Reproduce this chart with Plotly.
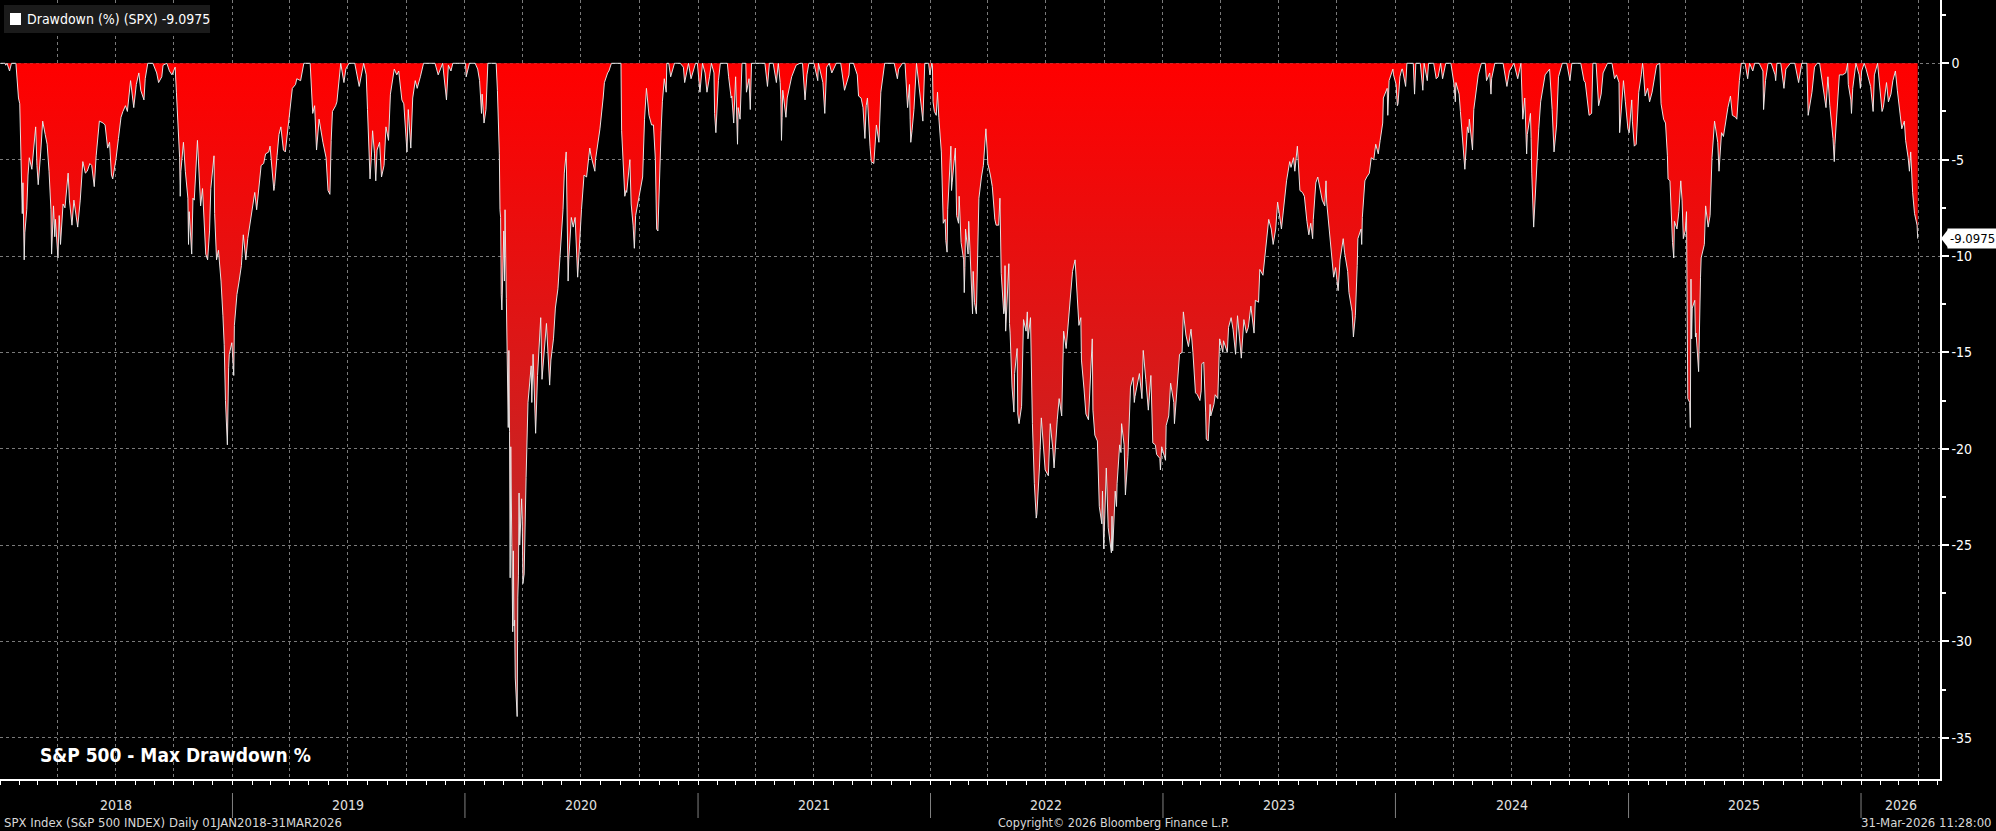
import plotly.graph_objects as go
import datetime as _dt

# ---------------- DATA (drawdown %) ----------------
dd_2018 = [("01-02",0),("01-05",0),("01-09",0),("01-10",-0.1),("01-12",0),("01-16",-0.4),("01-19",0),("01-26",0),
 ("01-30",-1.8),("02-01",-2.1),("02-02",-3.9),("02-05",-7.8),("02-06",-6.2),("02-08",-10.2),("02-09",-8.8),("02-12",-7.6),
 ("02-14",-5.8),("02-16",-4.9),("02-20",-5.5),("02-23",-4.4),("02-26",-3.3),("02-28",-5.3),("03-02",-6.3),("03-06",-4.6),
 ("03-09",-3.0),("03-13",-3.7),("03-16",-4.2),("03-19",-5.6),("03-22",-7.6),("03-23",-9.9),("03-26",-7.4),("03-28",-9.0),
 ("03-29",-8.1),("04-02",-10.1),("04-04",-7.9),("04-06",-9.4),("04-10",-7.3),("04-13",-7.5),("04-18",-5.7),("04-20",-7.1),
 ("04-24",-8.4),("04-27",-7.1),("05-03",-8.5),("05-07",-7.1),("05-11",-5.1),("05-15",-5.7),("05-18",-5.6),("05-22",-5.2),
 ("05-25",-5.3),("05-29",-6.4),("06-01",-4.8),("06-06",-3.0),("06-12",-3.1),("06-15",-3.2),("06-19",-4.4),("06-22",-4.1),
 ("06-25",-5.8),("06-27",-6.0),("07-02",-5.0),("07-06",-3.9),("07-10",-2.8),("07-13",-2.5),("07-17",-2.2),("07-20",-2.5),
 ("07-25",-0.9),("07-30",-2.3),("08-03",-1.1),("08-07",-0.5),("08-10",-1.4),("08-15",-1.9),("08-17",-0.8),("08-21",0),
 ("08-24",0),("08-29",0),("09-04",-0.5),("09-07",-1.0),("09-12",-0.7),("09-14",-0.1),("09-20",0),("09-24",-0.4),
 ("09-28",-0.6),("10-03",-0.2),("10-05",-1.5),("10-10",-4.9),("10-11",-6.9),("10-12",-5.6),("10-16",-4.1),("10-19",-5.6),
 ("10-23",-7.0),("10-24",-9.4),("10-25",-7.7),("10-29",-9.9),("10-31",-7.0),("11-02",-7.1),("11-07",-4.0),("11-09",-5.1),
 ("11-12",-7.4),("11-15",-6.5),("11-20",-9.9),("11-23",-10.2),("11-26",-8.7),("11-28",-6.5),("11-30",-5.8),("12-03",-4.8),
 ("12-04",-7.8),("12-07",-10.2),("12-10",-9.7),("12-14",-11.3),("12-17",-13.1),("12-19",-14.6),("12-21",-17.5),("12-24",-19.8),
 ("12-26",-15.8),("12-27",-15.1),("12-31",-14.5)]

dd_2019 = [("01-03",-16.2),("01-04",-13.6),("01-08",-12.0),("01-11",-11.4),("01-15",-10.5),("01-18",-8.9),("01-22",-10.2),
 ("01-25",-9.1),("01-30",-8.1),("02-01",-7.6),("02-05",-6.7),("02-08",-7.6),("02-12",-6.2),("02-15",-5.3),("02-19",-5.2),
 ("02-22",-4.7),("02-27",-4.6),("03-01",-4.3),("03-07",-6.6),("03-08",-6.4),("03-12",-4.8),("03-15",-3.7),("03-18",-3.3),
 ("03-22",-4.5),("03-25",-4.6),("03-29",-3.3),("04-03",-1.8),("04-05",-1.3),("04-10",-1.1),("04-12",-0.8),("04-18",-0.9),
 ("04-23",0),("04-26",0),("04-30",0),("05-03",0),("05-07",-2.6),("05-10",-2.2),("05-13",-4.5),("05-17",-2.9),("05-23",-4.1),
 ("05-28",-4.9),("05-31",-6.6),("06-03",-6.8),("06-05",-4.0),("06-07",-2.5),("06-12",-2.2),("06-14",-2.0),("06-20",0),
 ("06-25",-1.0),("06-28",-0.3),("07-03",0),("07-12",0),("07-18",-0.9),("07-19",-1.2),("07-26",0),("07-30",-0.6),
 ("08-01",-2.4),("08-02",-3.1),("08-05",-6.0),("08-07",-4.9),("08-09",-3.5),("08-12",-4.7),("08-14",-6.1),("08-16",-4.5),
 ("08-20",-4.1),("08-23",-5.9),("08-27",-5.3),("08-30",-3.3),("09-03",-4.0),("09-06",-1.6),("09-12",-0.3),("09-16",-0.6),
 ("09-19",-0.4),("09-24",-1.9),("09-27",-2.1),("10-02",-4.6),("10-04",-2.4),("10-08",-4.4),("10-11",-1.8),("10-15",-0.9),
 ("10-18",-1.3),("10-23",-0.7),("10-28",0),("11-01",0),("11-08",0),("11-15",0),("11-20",-0.6),("11-27",0),("12-03",-1.9),
 ("12-06",-0.1),("12-10",-0.4),("12-13",0),("12-20",0),("12-27",0),("12-31",0)]

dd_2020 = [("01-02",0),("01-03",-0.7),("01-08",0),("01-17",0),("01-21",-0.3),("01-24",-0.9),("01-27",-2.6),("01-28",-1.6),
 ("01-31",-3.1),("02-03",-2.4),("02-06",0),("02-12",0),("02-14",0),("02-19",0),("02-21",-1.4),("02-24",-4.7),("02-25",-7.6),
 ("02-26",-8.0),("02-27",-12.0),("02-28",-12.8),("03-02",-8.7),("03-03",-11.3),("03-04",-7.6),("03-05",-10.7),("03-06",-12.2),
 ("03-09",-18.9),("03-10",-14.9),("03-11",-19.1),("03-12",-26.7),("03-13",-19.9),("03-16",-29.5),("03-17",-25.3),("03-18",-29.2),
 ("03-19",-28.9),("03-20",-31.9),("03-23",-33.9),("03-24",-27.7),("03-25",-26.6),("03-26",-22.3),("03-27",-25.0),("03-30",-22.6),
 ("03-31",-23.7),("04-01",-27.0),("04-03",-26.5),("04-06",-21.5),("04-08",-18.8),("04-09",-17.6),("04-14",-15.7),("04-15",-17.6),
 ("04-17",-15.1),("04-21",-19.2),("04-24",-16.2),("04-29",-13.2),("05-01",-16.4),("05-05",-14.9),("05-08",-13.5),("05-13",-16.7),
 ("05-15",-15.4),("05-19",-14.3),("05-22",-12.7),("05-26",-11.7),("05-29",-10.1),("06-03",-7.6),("06-05",-5.7),("06-08",-4.6),
 ("06-11",-11.3),("06-12",-10.2),("06-16",-8.0),("06-19",-8.5),("06-22",-8.0),("06-26",-11.1),("07-02",-7.6),("07-06",-5.8),
 ("07-10",-5.9),("07-15",-4.4),("07-17",-4.8),("07-23",-5.6),("07-24",-5.0),("07-31",-3.4),("08-05",-1.8),("08-07",-1.0),
 ("08-12",-0.5),("08-14",-0.4),("08-18",0),("08-21",0),("08-28",0),("09-02",0),("09-03",-3.5),("09-08",-6.9),("09-10",-6.6),
 ("09-11",-6.7),("09-16",-5.0),("09-18",-7.3),("09-21",-8.4),("09-23",-9.6),("09-25",-7.9),("09-29",-7.2),("10-02",-6.5),
 ("10-06",-5.9),("10-09",-2.9),("10-12",-1.3),("10-16",-2.7),("10-20",-3.2),("10-23",-3.2),("10-26",-5.0),("10-28",-8.6),
 ("10-30",-8.7),("11-04",-3.5),("11-06",-2.0),("11-09",-0.8),("11-12",-1.5),("11-13",0),("11-16",0),("11-19",-0.7),
 ("11-23",-0.3),("11-25",0),("11-27",0),("12-04",0),("12-09",-0.2),("12-11",-1.0),("12-17",0),("12-21",-0.8),("12-28",0),
 ("12-31",0)]

dd_2021 = [("01-04",-1.5),("01-08",0),("01-12",-0.5),("01-15",-1.5),("01-19",-0.7),("01-22",0),("01-26",-0.5),("01-27",-2.6),
 ("01-29",-3.6),("02-02",-0.9),("02-05",0),("02-12",0),("02-16",0),("02-18",-0.7),("02-22",-1.8),("02-23",-1.7),("02-25",-3.1),
 ("02-26",-3.1),("03-01",-0.7),("03-04",-4.2),("03-05",-2.3),("03-08",-2.9),("03-11",0),("03-12",0),("03-17",0),("03-18",-1.5),
 ("03-22",-0.8),("03-24",-2.4),("03-26",0),("04-01",0),("04-09",0),("04-16",0),("04-20",-1.2),("04-23",0),("04-29",0),
 ("05-04",-1.0),("05-07",0),("05-10",-1.0),("05-11",-1.9),("05-12",-4.0),("05-13",-2.8),("05-14",-1.4),("05-19",-2.8),
 ("05-21",-1.8),("05-28",-0.7),("06-04",-0.1),("06-10",0),("06-14",0),("06-18",-1.9),("06-21",-0.6),("06-24",0),("07-02",0),
 ("07-08",-0.9),("07-09",0),("07-16",-1.0),("07-19",-2.6),("07-22",-0.2),("07-26",0),("07-30",-0.5),("08-06",0),("08-13",0),
 ("08-18",-1.1),("08-19",-1.4),("08-26",-0.6),("08-27",0),("09-02",0),("09-08",-0.6),("09-10",-1.7),("09-14",-1.8),
 ("09-17",-2.3),("09-20",-3.9),("09-22",-2.2),("09-24",-1.8),("09-28",-4.3),("09-30",-5.1),("10-04",-5.2),("10-06",-4.1),
 ("10-08",-3.2),("10-12",-4.1),("10-15",-1.5),("10-21",0),("10-29",0),("11-05",0),("11-10",-0.8),("11-12",-0.3),("11-18",0),
 ("11-22",0),("11-26",-2.3),("11-29",-1.1),("11-30",-2.9),("12-01",-4.1),("12-03",-3.5),("12-06",-2.4),("12-10",0),
 ("12-14",-1.3),("12-17",-1.9),("12-20",-3.0),("12-23",0),("12-29",0),("12-31",-0.6)]

dd_2022 = [("01-03",0),("01-04",-0.1),("01-05",-2.0),("01-07",-2.5),("01-10",-2.7),("01-12",-1.5),("01-14",-2.8),("01-18",-4.6),
 ("01-19",-5.5),("01-21",-8.3),("01-24",-8.1),("01-25",-9.2),("01-27",-9.8),("01-28",-7.6),("02-02",-4.3),("02-03",-6.6),
 ("02-04",-6.2),("02-09",-4.4),("02-11",-7.9),("02-14",-8.3),("02-15",-6.9),("02-17",-8.2),("02-18",-9.3),("02-22",-10.2),
 ("02-23",-11.9),("02-24",-10.6),("02-25",-8.6),("03-01",-9.9),("03-02",-8.2),("03-04",-9.7),("03-07",-12.8),("03-08",-13.0),
 ("03-09",-10.8),("03-11",-12.4),("03-14",-13.0),("03-16",-10.0),("03-18",-7.0),("03-22",-5.9),("03-25",-5.3),("03-29",-3.4),
 ("04-01",-5.2),("04-05",-5.8),("04-08",-6.4),("04-12",-8.1),("04-14",-8.4),("04-18",-8.4),("04-20",-7.0),("04-22",-10.9),
 ("04-26",-13.0),("04-27",-12.8),("04-28",-10.5),("04-29",-13.9),("05-04",-10.4),("05-05",-13.5),("05-06",-14.0),("05-09",-16.8),
 ("05-11",-18.0),("05-12",-18.1),("05-13",-16.1),("05-17",-14.8),("05-18",-18.2),("05-20",-18.7),("05-24",-17.8),("05-26",-15.0),
 ("05-27",-13.3),("05-31",-13.9),("06-02",-12.9),("06-03",-14.3),("06-07",-13.2),("06-09",-16.9),("06-10",-18.7),("06-13",-21.8),
 ("06-16",-23.6),("06-17",-23.4),("06-21",-21.0),("06-24",-18.4),("06-28",-20.6),("06-30",-21.1),("07-05",-21.4),("07-08",-18.7),
 ("07-12",-20.0),("07-14",-21.0),("07-19",-18.5),("07-22",-17.4),("07-26",-18.3),("07-29",-13.9),("08-02",-14.8),("08-05",-13.6),
 ("08-10",-12.0),("08-12",-10.8),("08-16",-10.2),("08-19",-11.9),("08-22",-13.6),("08-25",-13.2),("08-26",-15.4),("08-30",-16.9),
 ("09-02",-18.2),("09-06",-18.5),("09-08",-17.1),("09-12",-14.3),("09-13",-18.0),("09-16",-19.3),("09-20",-19.6),("09-22",-22.5),
 ("09-23",-23.0),("09-27",-23.9),("09-28",-22.2),("09-30",-25.2),("10-04",-21.0),("10-07",-24.1),("10-12",-25.4),("10-13",-23.5),
 ("10-14",-25.3),("10-18",-22.2),("10-20",-23.0),("10-21",-21.8),("10-25",-19.8),("10-27",-20.2),("10-28",-18.7),("11-01",-19.8),
 ("11-03",-22.4),("11-07",-20.4),("11-10",-17.5),("11-11",-16.8),("11-15",-16.3),("11-17",-17.6),("11-18",-17.3),("11-23",-16.4),
 ("11-25",-16.1),("11-29",-17.4),("11-30",-14.9),("12-01",-14.9),("12-05",-16.4),("12-09",-18.0),("12-13",-16.2),("12-15",-19.1),
 ("12-16",-19.7),("12-20",-19.8),("12-22",-20.3),("12-27",-20.5),("12-28",-21.1),("12-30",-19.9)]

dd_2023 = [("01-03",-20.3),("01-05",-20.6),("01-06",-18.8),("01-10",-18.3),("01-13",-16.6),("01-18",-17.6),("01-19",-18.7),
 ("01-24",-16.7),("01-27",-15.1),("01-31",-15.0),("02-02",-12.9),("02-06",-14.1),("02-10",-14.7),("02-14",-13.8),("02-17",-15.0),
 ("02-21",-17.1),("02-24",-17.2),("02-28",-17.5),("03-02",-17.0),("03-03",-15.6),("03-06",-15.5),("03-09",-18.1),("03-10",-19.5),
 ("03-13",-19.6),("03-16",-17.7),("03-17",-18.3),("03-22",-17.7),("03-24",-17.2),("03-28",-17.4),("03-31",-14.3),("04-05",-15.0),
 ("04-06",-14.4),("04-12",-15.0),("04-14",-13.7),("04-18",-13.2),("04-21",-13.8),("04-25",-15.1),("04-28",-13.1),("05-03",-15.0),
 ("05-04",-15.3),("05-08",-13.3),("05-12",-14.0),("05-15",-13.7),("05-19",-12.6),("05-24",-14.0),("05-26",-12.3),("05-31",-12.4),
 ("06-02",-10.7),("06-07",-11.0),("06-09",-10.4),("06-13",-9.3),("06-16",-8.1),("06-20",-8.6),("06-23",-9.4),("06-27",-8.6),
 ("06-30",-7.2),("07-06",-8.6),("07-07",-8.3),("07-12",-6.7),("07-14",-6.1),("07-19",-5.1),("07-21",-5.4),("07-25",-4.9),
 ("07-27",-5.6),("07-31",-4.3),("08-02",-5.6),("08-04",-6.6),("08-08",-6.7),("08-11",-6.9),("08-15",-8.2),("08-18",-8.9),
 ("08-21",-8.3),("08-24",-9.1),("08-25",-8.1),("08-29",-6.2),("09-01",-5.9),("09-06",-6.9),("09-08",-7.1),("09-12",-7.4),
 ("09-14",-6.1),("09-15",-7.2),("09-21",-9.5),("09-22",-9.9),("09-26",-11.1),("09-29",-10.6),("10-03",-11.8),("10-06",-10.2),
 ("10-11",-9.1),("10-13",-9.8),("10-18",-10.8),("10-20",-11.9),("10-25",-12.9),("10-27",-14.2),("10-30",-13.1),("11-02",-10.5),
 ("11-03",-9.1),("11-08",-8.6),("11-09",-9.4),("11-10",-8.0),("11-14",-6.1),("11-17",-5.9),("11-21",-5.7),("11-24",-4.9),
 ("11-28",-5.0),("12-01",-4.2),("12-05",-4.7),("12-08",-4.0),("12-12",-3.1),("12-13",-1.8),("12-15",-1.6),("12-19",-1.3),
 ("12-20",-2.7),("12-22",-0.9),("12-28",-0.3),("12-29",-0.6)]

dd_2024 = [("01-02",-1.1),("01-03",-1.9),("01-04",-2.2),("01-05",-2.1),("01-08",-0.7),("01-11",-0.3),("01-12",-0.3),("01-17",-1.2),
 ("01-19",0),("01-24",0),("01-26",0),("01-29",0),("01-31",-1.6),("02-02",0),("02-09",0),("02-13",-1.4),("02-15",0),("02-20",-0.9),
 ("02-22",0),("03-01",0),("03-05",-0.8),("03-08",-0.7),("03-12",0),("03-15",-0.8),("03-20",0),("03-28",0),("04-02",-1.1),
 ("04-04",-2.0),("04-05",-1.0),("04-10",-1.6),("04-12",-2.5),("04-15",-3.7),("04-17",-4.6),("04-19",-5.5),("04-23",-3.3),
 ("04-25",-3.6),("04-26",-2.9),("05-01",-4.5),("05-03",-2.4),("05-08",-1.2),("05-10",-0.6),("05-15",0),("05-21",0),("05-23",-0.9),
 ("05-28",-0.5),("05-30",-1.6),("05-31",-0.8),("06-05",0),("06-12",0),("06-14",0),("06-18",0),("06-24",-1.2),("06-28",-0.4),
 ("07-05",0),("07-11",-0.8),("07-16",0),("07-17",-1.4),("07-19",-2.9),("07-22",-1.8),("07-24",-4.2),("07-25",-4.7),("07-26",-3.7),
 ("07-31",-2.6),("08-01",-3.9),("08-02",-5.7),("08-05",-8.5),("08-07",-7.2),("08-09",-5.7),("08-13",-3.4),("08-16",-2.0),
 ("08-21",-1.0),("08-23",-0.6),("08-30",-0.3),("09-03",-2.4),("09-06",-4.6),("09-10",-3.2),("09-13",-0.7),("09-19",0),
 ("09-26",0),("10-01",-0.9),("10-04",0),("10-11",0),("10-18",0),("10-23",-0.9),("10-25",-1.0),("10-31",-2.7),("11-04",-2.6),
 ("11-06",0),("11-11",0),("11-15",-2.2),("11-19",-1.6),("11-22",-0.5),("11-29",0),("12-06",0),("12-10",-0.8),("12-13",-0.6),
 ("12-17",-1.0),("12-18",-3.6),("12-20",-2.6),("12-24",-0.9),("12-27",-2.0),("12-31",-3.4)]

dd_2025 = [("01-02",-3.6),("01-06",-1.9),("01-07",-3.0),("01-10",-4.3),("01-13",-4.2),("01-15",-2.4),("01-17",-1.5),("01-21",-0.6),
 ("01-23",0),("01-24",-0.3),("01-27",-1.7),("01-31",-1.3),("02-03",-2.0),("02-07",-1.5),("02-14",-0.1),("02-19",0),("02-21",-2.1),
 ("02-25",-2.9),("02-28",-3.1),("03-03",-4.8),("03-04",-6.0),("03-07",-6.1),("03-10",-8.6),("03-11",-9.3),("03-13",-10.1),
 ("03-14",-8.2),("03-18",-8.6),("03-21",-7.7),("03-24",-6.1),("03-26",-7.1),("03-28",-9.1),("03-31",-8.7),("04-02",-7.7),
 ("04-03",-12.2),("04-04",-17.4),("04-07",-17.6),("04-08",-18.9),("04-09",-11.2),("04-10",-14.3),("04-11",-12.7),("04-15",-12.3),
 ("04-16",-14.2),("04-17",-14.0),("04-21",-16.0),("04-22",-13.8),("04-24",-11.1),("04-25",-10.1),("04-30",-9.4),("05-02",-7.4),
 ("05-06",-8.5),("05-09",-7.9),("05-12",-4.9),("05-16",-3.0),("05-21",-4.1),("05-23",-5.6),("05-27",-3.6),("05-30",-3.8),
 ("06-06",-2.3),("06-10",-1.7),("06-13",-2.7),("06-18",-2.8),("06-20",-2.9),("06-24",-0.9),("06-27",0),("07-03",0),("07-07",-0.8),
 ("07-10",0),("07-15",-0.4),("07-18",0),("07-25",0),("07-31",-0.4),("08-01",-2.4),("08-04",-0.9),("08-08",0),("08-13",0),
 ("08-19",-0.6),("08-20",-0.9),("08-22",0),("08-28",0),("09-02",-1.3),("09-05",-0.3),("09-12",0),("09-19",0),("09-25",-1.0),
 ("09-30",0),("10-08",0),("10-10",-2.7),("10-14",-1.9),("10-16",-1.5),("10-20",-0.2),("10-24",0),("10-28",0),("11-04",-1.7),
 ("11-07",-2.3),("11-10",-0.7),("11-13",-2.2),("11-18",-3.9),("11-20",-5.1),("11-21",-4.2),("11-25",-2.4),("11-28",-0.6),
 ("12-03",-0.6),("12-08",-0.5),("12-11",0),("12-12",-1.1),("12-16",-1.9),("12-17",-2.6),("12-19",-1.3),("12-24",0),
 ("12-29",-0.6),("12-31",-1.3)]

dd_2026 = [("01-02",-0.4),("01-06",0),("01-09",-0.3),("01-13",-0.8),("01-16",-1.2),("01-20",-2.5),("01-22",-0.6),("01-27",0),
 ("01-30",-1.0),("02-03",-2.5),("02-05",-2.3),("02-10",-1.0),("02-13",-2.0),("02-17",-1.6),("02-20",-0.9),("02-24",-0.4),
 ("02-27",-1.4),("03-03",-2.4),("03-06",-3.4),("03-10",-3.0),("03-12",-4.0),("03-16",-4.9),("03-18",-5.6),("03-20",-4.6),
 ("03-23",-6.7),("03-26",-7.8),("03-30",-8.4),("03-31",-9.0975)]

YEARS = [2018, 2019, 2020, 2021, 2022, 2023, 2024, 2025, 2026]
SERIES = [dd_2018, dd_2019, dd_2020, dd_2021, dd_2022, dd_2023, dd_2024, dd_2025, dd_2026]
YEAR_LABELS = ["2018", "2019", "2020", "2021", "2022", "2023", "2024", "2025", "2026"]
Y_TICKS = [0, -5, -10, -15, -20, -25, -30, -35]
LAST_VALUE = -9.0975
LEGEND_TEXT = "Drawdown (%) (SPX) -9.0975"
TITLE = "S&P 500 - Max Drawdown %"
FOOT_LEFT = "SPX Index (S&P 500 INDEX) Daily 01JAN2018-31MAR2026"
FOOT_MID = "Copyright\u00a9 2026 Bloomberg Finance L.P."
FOOT_RIGHT = "31-Mar-2026 11:28:00"

dates, vals = [], []
for yr, ser in zip(YEARS, SERIES):
    for md, v in ser:
        dates.append(f"{yr}-{md}")
        vals.append(v)

# ---------------- LAYOUT ----------------
W_FIG, H_FIG = 1996, 831
M_L, M_R, M_T, M_B = 0, 56, 0, 52
W, H = W_FIG - M_L - M_R, H_FIG - M_T - M_B
X_START, X_END = "2018-01-01", "2026-05-05"
FONT = "Liberation Sans Narrow, Arial Narrow, DejaVu Sans Condensed, sans-serif"

def px(x):
    return x / W

def py(y):
    return 1 - y / H

fig = go.Figure()
fig.add_trace(go.Scatter(
    x=dates, y=vals, mode="lines",
    line=dict(color="rgba(235,235,235,0.95)", width=1.0),
    fill="tozeroy",
    fillgradient=dict(type="vertical", start=-35, stop=0,
                      colorscale=[[0, "rgb(170,55,55)"], [1, "rgb(255,0,0)"]]),
    hoverinfo="skip", showlegend=False,
))

grid_col = "#7a7a7a"
fig.update_layout(
    width=W_FIG, height=H_FIG,
    margin=dict(l=M_L, r=M_R, t=M_T, b=M_B, pad=0),
    paper_bgcolor="black", plot_bgcolor="black",
    font=dict(family=FONT, color="white", size=14),
    showlegend=False,
    xaxis=dict(
        type="date", range=[X_START, X_END],
        showline=True, linecolor="white", linewidth=1.5,
        ticks="outside", ticklen=4, tickcolor="white", tickwidth=1,
        tick0="2018-01-01", dtick="M3", showticklabels=False,
        showgrid=True, gridcolor=grid_col, gridwidth=1, griddash="3px,3px",
        zeroline=False,
        minor=dict(dtick="M1", tick0="2018-01-01", ticks="outside", ticklen=4,
                   tickcolor="white", showgrid=False),
    ),
    yaxis=dict(
        side="right", range=[-37.14, 3.285],
        tickvals=Y_TICKS, ticktext=[str(t) for t in Y_TICKS],
        ticks="outside", ticklen=7, tickwidth=2, tickcolor="white",
        tickfont=dict(size=14, color="white", family=FONT),
        showline=True, linecolor="white", linewidth=1.5,
        showgrid=True, gridcolor=grid_col, gridwidth=1, griddash="dot",
        zeroline=False,
        minor=dict(tick0=0, dtick=2.5, ticks="outside", ticklen=4,
                   tickcolor="white", showgrid=False),
    ),
)

shapes = []
annotations = []

# legend box
shapes.append(dict(type="rect", xref="paper", yref="paper",
                   x0=px(4), x1=px(210), y0=py(33), y1=py(5),
                   fillcolor="#1b1b1b", line=dict(width=0), layer="above"))
shapes.append(dict(type="rect", xref="paper", yref="paper",
                   x0=px(10), x1=px(21), y0=py(25), y1=py(13),
                   fillcolor="white", line=dict(width=0), layer="above"))
annotations.append(dict(text=LEGEND_TEXT, xref="paper", yref="paper",
                        x=px(25), y=py(19), xanchor="left", yanchor="middle",
                        showarrow=False, font=dict(size=14, color="white", family=FONT)))

# chart title
annotations.append(dict(text=TITLE, xref="paper", yref="paper",
                        x=px(38), y=py(755), xanchor="left", yanchor="middle",
                        showarrow=False,
                        font=dict(size=19, color="white", family=FONT, weight="bold")))

# year labels and separators
x0d = _dt.date.fromisoformat(X_START)
x1d = _dt.date.fromisoformat(X_END)
for yr, lab in zip(YEARS, YEAR_LABELS):
    a = max(_dt.date(yr, 1, 1), x0d)
    b = min(_dt.date(yr + 1, 1, 1), x1d)
    mid = a + (b - a) / 2
    annotations.append(dict(text=lab, xref="x", yref="paper", x=mid.isoformat(),
                            y=py(805), xanchor="center", yanchor="middle",
                            showarrow=False, font=dict(size=14, color="#e0e0e0", family=FONT)))
    if yr > YEARS[0]:
        shapes.append(dict(type="line", xref="x", yref="paper",
                           x0=f"{yr}-01-01", x1=f"{yr}-01-01", y0=py(793), y1=py(818),
                           line=dict(color="#808080", width=1)))

# footer
annotations.append(dict(text=FOOT_LEFT, xref="paper", yref="paper", x=px(2), y=py(822),
                        xanchor="left", yanchor="middle", showarrow=False,
                        font=dict(size=13, color="#d8d8d8", family=FONT)))
annotations.append(dict(text=FOOT_MID, xref="paper", yref="paper", x=px(1113), y=py(822),
                        xanchor="center", yanchor="middle", showarrow=False,
                        font=dict(size=12.5, color="#d8d8d8", family=FONT)))
annotations.append(dict(text=FOOT_RIGHT, xref="paper", yref="paper", x=px(1994), y=py(822),
                        xanchor="right", yanchor="middle", showarrow=False,
                        font=dict(size=13, color="#d8d8d8", family=FONT)))

# last value tag
shapes.append(dict(type="path", xref="paper", yref="y", xsizemode="pixel", ysizemode="pixel",
                   xanchor=1, yanchor=LAST_VALUE, path="M 1 0 L 8 -9 L 8 9 Z",
                   fillcolor="white", line=dict(width=0), layer="above"))
annotations.append(dict(text=f"{LAST_VALUE}", xref="paper", yref="y", x=px(1947), y=LAST_VALUE,
                        xanchor="left", yanchor="middle", showarrow=False,
                        bgcolor="white", borderpad=2,
                        font=dict(size=13, color="black", family=FONT)))

fig.update_layout(shapes=shapes, annotations=annotations)
fig.write_html(
    "out.html",
    config={"displayModeBar": False},
    post_script="document.body.style.margin='0';document.body.style.padding='0';"
                "document.body.style.overflow='hidden';",
)
